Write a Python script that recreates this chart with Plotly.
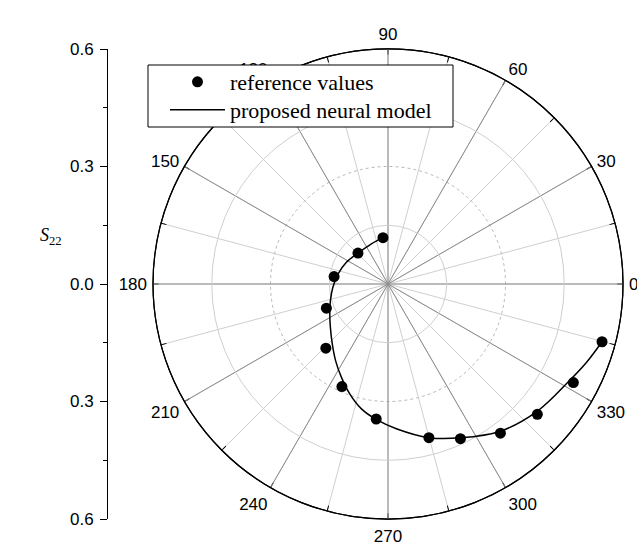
import plotly.graph_objects as go

# reference values (markers): radius and angle in degrees
ref_r = [0.119, 0.110, 0.139, 0.169, 0.228, 0.287, 0.346, 0.406, 0.436, 0.477, 0.506, 0.536, 0.566]
ref_theta = [96.2, 134.2, 172.1, 201.4, 225.9, 245.8, 265.0, 284.9, 295.1, 307.0, 318.9, 332.0, 344.9]

# proposed neural model (line)
model_r = [0.119, 0.111, 0.110, 0.120, 0.130, 0.141, 0.153, 0.167, 0.184, 0.209, 0.237, 0.266,
           0.297, 0.326, 0.347, 0.370, 0.406, 0.434, 0.473, 0.501, 0.525, 0.545, 0.566]
model_theta = [96.2, 112.4, 134.2, 152.3, 168.5, 183.3, 196.0, 207.1, 216.9, 227.1, 235.6, 243.4,
               250.8, 258.0, 265.0, 273.3, 284.9, 295.2, 307.4, 319.6, 332.0, 338.5, 344.9]

major_angles = [0, 30, 60, 90, 120, 150, 180, 210, 240, 270, 300, 330]
all_angles = [0, 15, 30, 45, 60, 75, 90, 105, 120, 135, 150, 165,
              180, 195, 210, 225, 240, 255, 270, 285, 300, 315, 330, 345]
left_ticks = [-0.6, -0.3, 0.0, 0.3, 0.6]
left_ticktext = ["0.6", "0.3", "0.0", "0.3", "0.6"]

W, H = 637, 543
cx, cy, R = 388, 284, 235
dom_x = [(cx - R) / W, (cx + R) / W]
dom_y = [1 - (cy + R) / H, 1 - (cy - R) / H]

sans = "Liberation Sans, Arial, sans-serif"
serif = "Liberation Serif, Times New Roman, serif"

fig = go.Figure()

# invisible anchor trace so the under-layer polar grid is drawn
fig.add_trace(go.Scatterpolar(r=[0], theta=[0], mode="markers", marker=dict(opacity=0),
                              showlegend=False, hoverinfo="skip", subplot="polar"))

fig.add_trace(go.Scatterpolar(
    r=ref_r, theta=ref_theta, mode="markers", name="reference values",
    marker=dict(symbol="circle", size=11, color="black"), subplot="polar2",
    legend="legend"))
fig.add_trace(go.Scatterpolar(
    r=model_r, theta=model_theta, mode="lines", name="proposed neural model",
    line=dict(color="black", width=1.5, shape="spline"), subplot="polar2",
    legend="legend2"))

# invisible trace for the left linear scale
fig.add_trace(go.Scatter(x=[0, 1], y=[-0.6, 0.6], mode="markers",
                         marker=dict(opacity=0), showlegend=False, hoverinfo="skip"))

leg_common = dict(xanchor="left", yanchor="middle", bgcolor="rgba(0,0,0,0)",
                  borderwidth=0, font=dict(family=serif, size=22, color="black"),
                  itemwidth=55)

fig.update_layout(
    width=W, height=H,
    margin=dict(l=0, r=0, t=0, b=0, autoexpand=False),
    paper_bgcolor="white",
    plot_bgcolor="rgba(0,0,0,0)",
    polar=dict(
        domain=dict(x=dom_x, y=dom_y),
        bgcolor="white",
        radialaxis=dict(range=[0, 0.6], tickvals=[0.3], showticklabels=False, ticks="",
                        showline=False, gridcolor="#b8b8b8", griddash="dot", gridwidth=1),
        angularaxis=dict(tickvals=all_angles, showticklabels=False, ticks="inside",
                         ticklen=5, tickcolor="black", gridcolor="#cfcfcf", gridwidth=1,
                         showline=True, linecolor="black", linewidth=1.2),
    ),
    polar2=dict(
        domain=dict(x=dom_x, y=dom_y),
        bgcolor="rgba(0,0,0,0)",
        radialaxis=dict(range=[0, 0.6], tickvals=[0.15, 0.45], showticklabels=False, ticks="",
                        showline=False, gridcolor="#cfcfcf", gridwidth=1),
        angularaxis=dict(tickvals=major_angles, ticktext=[str(a) for a in major_angles],
                         ticks="outside", ticklen=2, tickcolor="rgba(0,0,0,0)",
                         gridcolor="#8c8c8c", gridwidth=1,
                         showline=True, linecolor="black", linewidth=1.2,
                         tickfont=dict(family=sans, size=17, color="black")),
    ),
    xaxis=dict(domain=[108 / W, 110 / W], visible=False, range=[0, 1]),
    yaxis=dict(domain=dom_y, range=[-0.6, 0.6], tickvals=left_ticks, ticktext=left_ticktext,
               ticks="outside", ticklen=7, tickcolor="black", showline=True, linecolor="black",
               linewidth=1, showgrid=False, zeroline=False, ticklabelstandoff=3,
               tickfont=dict(family=sans, size=17, color="black"),
               minor=dict(tickvals=[-0.45, -0.15, 0.15, 0.45], ticks="outside", ticklen=4,
                          tickcolor="black", showgrid=False)),
    legend=dict(x=165 / W, y=1 - 82 / H, **leg_common),
    legend2=dict(x=165 / W, y=1 - 110 / H, **leg_common),
    shapes=[dict(type="rect", xref="paper", yref="paper",
                 x0=148 / W, x1=453 / W, y0=1 - 127 / H, y1=1 - 65 / H,
                 line=dict(color="black", width=1), fillcolor="white", layer="above")],
    annotations=[dict(text="<i>S</i><sub>22</sub>", x=38 / W, y=1 - 236 / H,
                      xref="paper", yref="paper", showarrow=False,
                      font=dict(family=serif, size=18, color="black"))],
    showlegend=True,
)

fig.write_html("out.html", config={"displayModeBar": False},
               post_script="document.body.style.margin='0px';")
